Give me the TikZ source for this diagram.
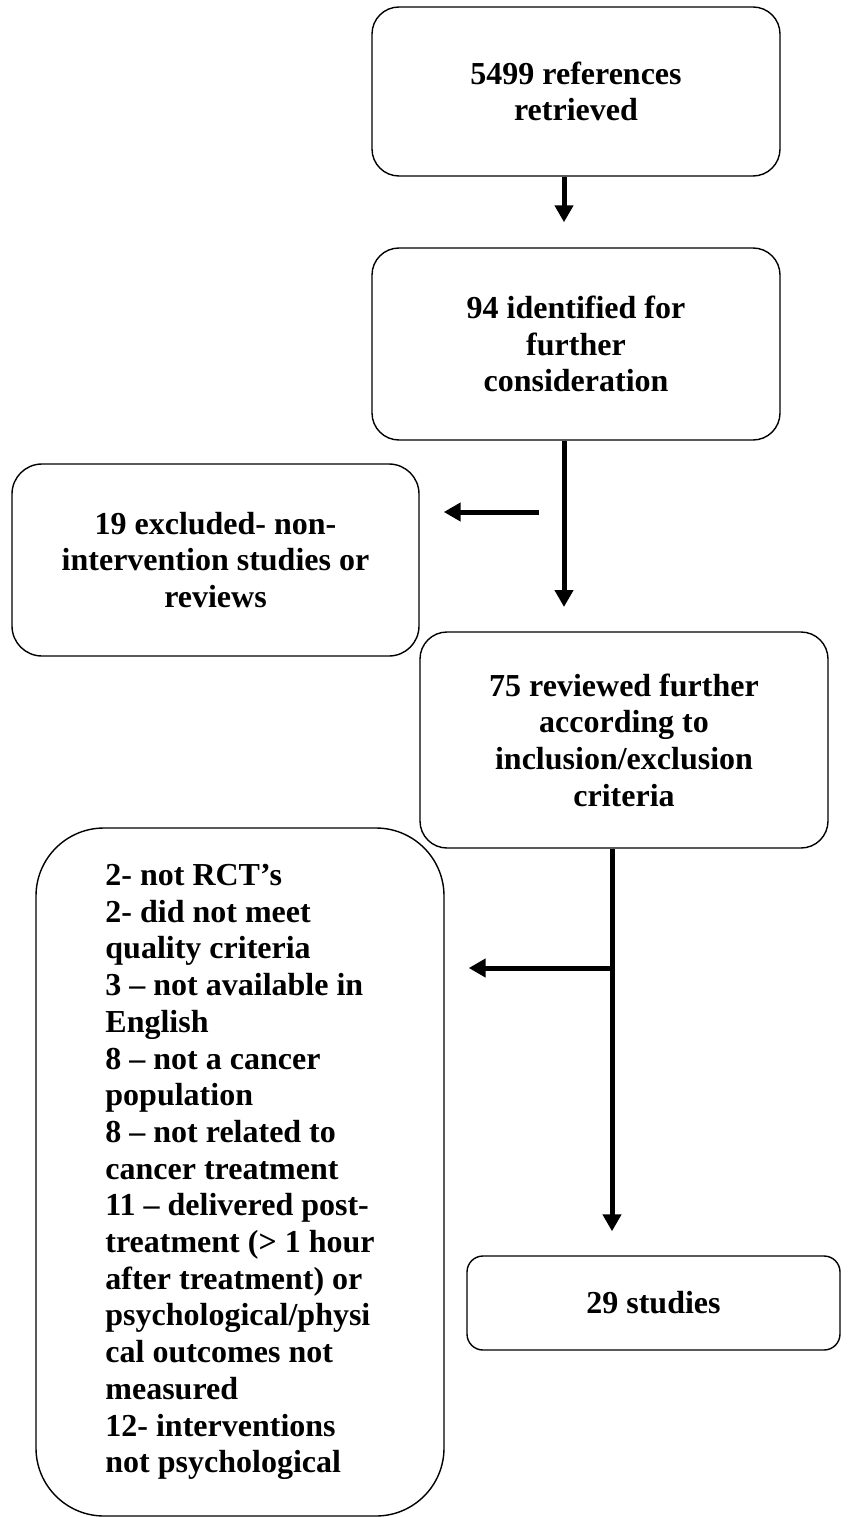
\documentclass[tikz,border=0pt]{standalone}
\usepackage{fontspec}
\setmainfont{Liberation Serif}
\usetikzlibrary{arrows.meta}

\begin{document}
\begin{tikzpicture}[x=1pt,y=1pt,yscale=-1,xscale=1,
  box/.style={draw,line width=1.4pt,font=\fontsize{32}{36.7}\selectfont\bfseries,align=center,inner sep=0pt},
  arr/.style={line width=5pt,-{Triangle[width=18pt,length=17pt]}}]
%set diagram left start at 0, and has height of 1517
\useasboundingbox (0,0) rectangle (867,1517);

%Rounded Rect: retrieved
\draw (576,91.5) node [box,rounded corners=27pt,minimum width=408pt,minimum height=169pt] (ret) {5499 references\\retrieved};
%Rounded Rect: identified
\draw (576,344) node [box,rounded corners=27pt,minimum width=408pt,minimum height=192pt] (ident) {94 identified for\\further\\consideration};
%Rounded Rect: excluded
\draw (215.5,560) node [box,rounded corners=30pt,minimum width=407pt,minimum height=192pt] (excl) {19 excluded- non-\\intervention studies or\\reviews};
%Rounded Rect: reviewed
\draw (624,740) node [box,rounded corners=27pt,minimum width=408pt,minimum height=216pt] (rev) {75 reviewed further\\according to\\inclusion/exclusion\\criteria};
%Rounded Rect: not included
\draw (240,1172) node [box,align=left,rounded corners=68pt,minimum width=408pt,minimum height=688pt] (notinc) {2- not RCT’s\\2- did not meet\\quality criteria\\3 – not available in\\English\\8 – not a cancer\\population\\8 – not related to\\cancer treatment\\11 – delivered post-\\treatment (> 1 hour\\after treatment) or\\psychological/physi\\cal outcomes not\\measured\\12- interventions\\not psychological};
%Rounded Rect: studies
\draw (653.5,1303) node [box,rounded corners=16pt,minimum width=373pt,minimum height=94pt] (studies) {29 studies};

%Arrows
\coordinate (c2) at (564,607);
\coordinate (a1) at (539,512);
\coordinate (br) at (612,968);
\draw [arr,shorten >=25pt] ([xshift=-12pt]ret.south) -- ([xshift=-12pt]ident.north);
\draw [arr] (ident.south -| c2) -- (c2);
\draw [arr,shorten >=24pt] (a1) -- (a1 -| excl.east);
\draw [arr,shorten >=24pt] ([xshift=-12pt]rev.south) -- ([xshift=-12pt]rev.south |- studies.north);
\draw [arr,shorten >=24pt] (br) -- (br -| notinc.east);

\end{tikzpicture}
\end{document}
